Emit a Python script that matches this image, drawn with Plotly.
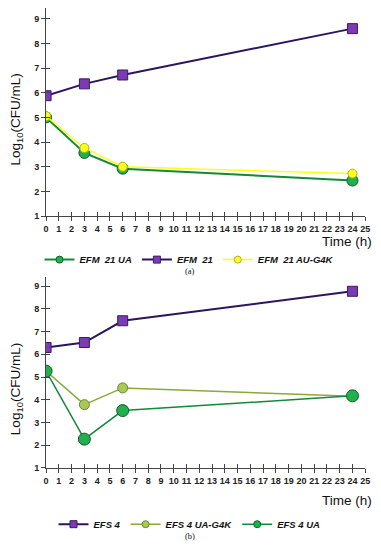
import plotly.graph_objects as go

hours = [0, 3, 6, 24]
x_ticks = list(range(0, 26))
y_ticks = list(range(1, 10))

# Panel (a)
efm21_ua = [5.0, 3.56, 2.92, 2.44]
efm21 = [5.88, 6.36, 6.72, 8.6]
efm21_au_g4k = [5.05, 3.76, 3.0, 2.72]

# Panel (b)
efs4 = [6.3, 6.52, 7.48, 8.78]
efs4_ua_g4k = [5.26, 3.78, 4.52, 4.15]
efs4_ua = [5.26, 2.26, 3.52, 4.17]

W, H = 381, 550
def px(x):
    return x / W
def py(y):
    return 1 - y / H

fig = go.Figure()

PURPLE_LINE = "#2a1660"
PURPLE = "#7a3cb0"
GREEN_LINE = "#138a3a"
GREEN = "#22b04e"
YELLOW = "#ffff1a"
OLIVE_LINE = "#8aa83c"
OLIVE = "#a9c85a"

series = [
    # name, y, xaxis, yaxis, legend, line color, line width, symbol, size, fill, outline
    ("EFM  21 UA", efm21_ua, "x", "y", "legend", GREEN_LINE, 2, "circle", 11, GREEN, "#0d5e28"),
    ("EFM  21", efm21, "x", "y", "legend", PURPLE_LINE, 2, "square", 10, PURPLE, "#3a1a66"),
    ("EFM  21 AU-G4K", efm21_au_g4k, "x", "y", "legend", YELLOW, 1.5, "circle", 9, YELLOW, "#b0b020"),
    ("EFS 4", efs4, "x2", "y2", "legend2", PURPLE_LINE, 2, "square", 10, PURPLE, "#3a1a66"),
    ("EFS 4 UA-G4K", efs4_ua_g4k, "x2", "y2", "legend2", OLIVE_LINE, 1.5, "circle", 10, OLIVE, "#6a8a28"),
    ("EFS 4 UA", efs4_ua, "x2", "y2", "legend2", GREEN_LINE, 1.5, "circle", 12, GREEN, "#0d5e28"),
]

for name, ys, xa, ya, lg, lc, lw, sym, sz, fc, oc in series:
    fig.add_trace(go.Scatter(x=hours, y=ys, name=name, mode="lines+markers",
        line=dict(color=lc, width=lw),
        marker=dict(symbol=sym, size=sz, color=fc, line=dict(color=oc, width=1)),
        xaxis=xa, yaxis=ya, showlegend=False, legendgroup=name))
    # legend-only entry with small symbol, as in the reference legend
    fig.add_trace(go.Scatter(x=[None], y=[None], name=name, mode="lines+markers",
        line=dict(color=lc, width=lw),
        marker=dict(symbol=sym, size=7, color=fc, line=dict(color=oc, width=1)),
        xaxis=xa, yaxis=ya, legend=lg, legendgroup=name, showlegend=True))

xdom = [px(44), px(370)]
tickfont = dict(family="Liberation Sans, Arial", size=9, color="#222", weight="bold")

def xaxis_cfg(anchor, overlay=None, inside=False):
    d = dict(domain=xdom, range=[0, 25], tickmode="array", tickvals=x_ticks,
             ticktext=[str(t) for t in x_ticks], showgrid=False, zeroline=False,
             showline=not inside, linecolor="#444", linewidth=1.2,
             ticks="inside" if inside else "outside", ticklen=4, tickcolor="#444", tickwidth=1,
             showticklabels=not inside, tickfont=tickfont, anchor=anchor, fixedrange=True)
    if overlay:
        d["overlaying"] = overlay
    return d

def yaxis_cfg(dom, rng, anchor, overlay=None, inside=False):
    d = dict(domain=dom, range=rng, tickmode="array", tickvals=y_ticks,
             ticktext=[str(t) for t in y_ticks], showgrid=False, zeroline=False,
             showline=not inside, linecolor="#444", linewidth=1.2,
             ticks="inside" if inside else "outside", ticklen=4, tickcolor="#444", tickwidth=1,
             showticklabels=not inside, tickfont=tickfont, anchor=anchor, fixedrange=True)
    if overlay:
        d["overlaying"] = overlay
    return d

ydom1 = [py(218), py(8)]
ydom2 = [py(472), py(280)]
yr1 = [1, 9.44]
yr2 = [1, 9.39]

legend_font = dict(family="Liberation Sans, Arial", size=9.5, style="italic",
                   weight="bold", color="#111")
fig.update_layout(
    width=W, height=H, margin=dict(l=0, r=0, t=0, b=0),
    paper_bgcolor="white", plot_bgcolor="white",
    xaxis=xaxis_cfg("y"),
    yaxis=yaxis_cfg(ydom1, yr1, "x"),
    xaxis2=xaxis_cfg("y2"),
    yaxis2=yaxis_cfg(ydom2, yr2, "x2"),
    xaxis3=xaxis_cfg("y3", overlay="x", inside=True),
    yaxis3=yaxis_cfg(ydom1, yr1, "x3", overlay="y", inside=True),
    xaxis4=xaxis_cfg("y4", overlay="x2", inside=True),
    yaxis4=yaxis_cfg(ydom2, yr2, "x4", overlay="y2", inside=True),
    showlegend=True,
    legend=dict(orientation="h", x=0.5, xanchor="center", y=py(262), yanchor="middle",
                font=legend_font, itemwidth=30, tracegroupgap=0, bgcolor="rgba(0,0,0,0)"),
    legend2=dict(orientation="h", x=0.5, xanchor="center", y=py(529), yanchor="middle",
                 font=legend_font, itemwidth=30, tracegroupgap=0, bgcolor="rgba(0,0,0,0)"),
)

# empty traces to activate overlay axes (cross-shaped ticks)
fig.add_trace(go.Scatter(x=[None], y=[None], xaxis="x3", yaxis="y3", showlegend=False, hoverinfo="skip"))
fig.add_trace(go.Scatter(x=[None], y=[None], xaxis="x4", yaxis="y4", showlegend=False, hoverinfo="skip"))

ann_font = dict(family="Liberation Sans, Arial", size=13.5, color="#111")
fig.add_annotation(text="Log<sub>10</sub>(CFU/mL)", x=px(14), y=py(121), xref="paper", yref="paper",
                   textangle=-90, showarrow=False, font=ann_font, xanchor="center", yanchor="middle")
fig.add_annotation(text="Log<sub>10</sub>(CFU/mL)", x=px(14), y=py(393), xref="paper", yref="paper",
                   textangle=-90, showarrow=False, font=ann_font, xanchor="center", yanchor="middle")
fig.add_annotation(text="Time (h)", x=px(379), y=py(244), xref="paper", yref="paper",
                   showarrow=False, font=ann_font, xanchor="right", yanchor="middle")
fig.add_annotation(text="Time (h)", x=px(379), y=py(505), xref="paper", yref="paper",
                   showarrow=False, font=ann_font, xanchor="right", yanchor="middle")
cap_font = dict(family="Liberation Serif, Times New Roman", size=8.5, color="#111")
fig.add_annotation(text="(a)", x=0.5, y=py(273), xref="paper", yref="paper",
                   showarrow=False, font=cap_font, xanchor="center", yanchor="middle")
fig.add_annotation(text="(b)", x=0.5, y=py(541), xref="paper", yref="paper",
                   showarrow=False, font=cap_font, xanchor="center", yanchor="middle")

fig.write_html("out.html", config={"displayModeBar": False},
               post_script="document.body.style.margin='0';document.body.style.overflow='hidden';")
